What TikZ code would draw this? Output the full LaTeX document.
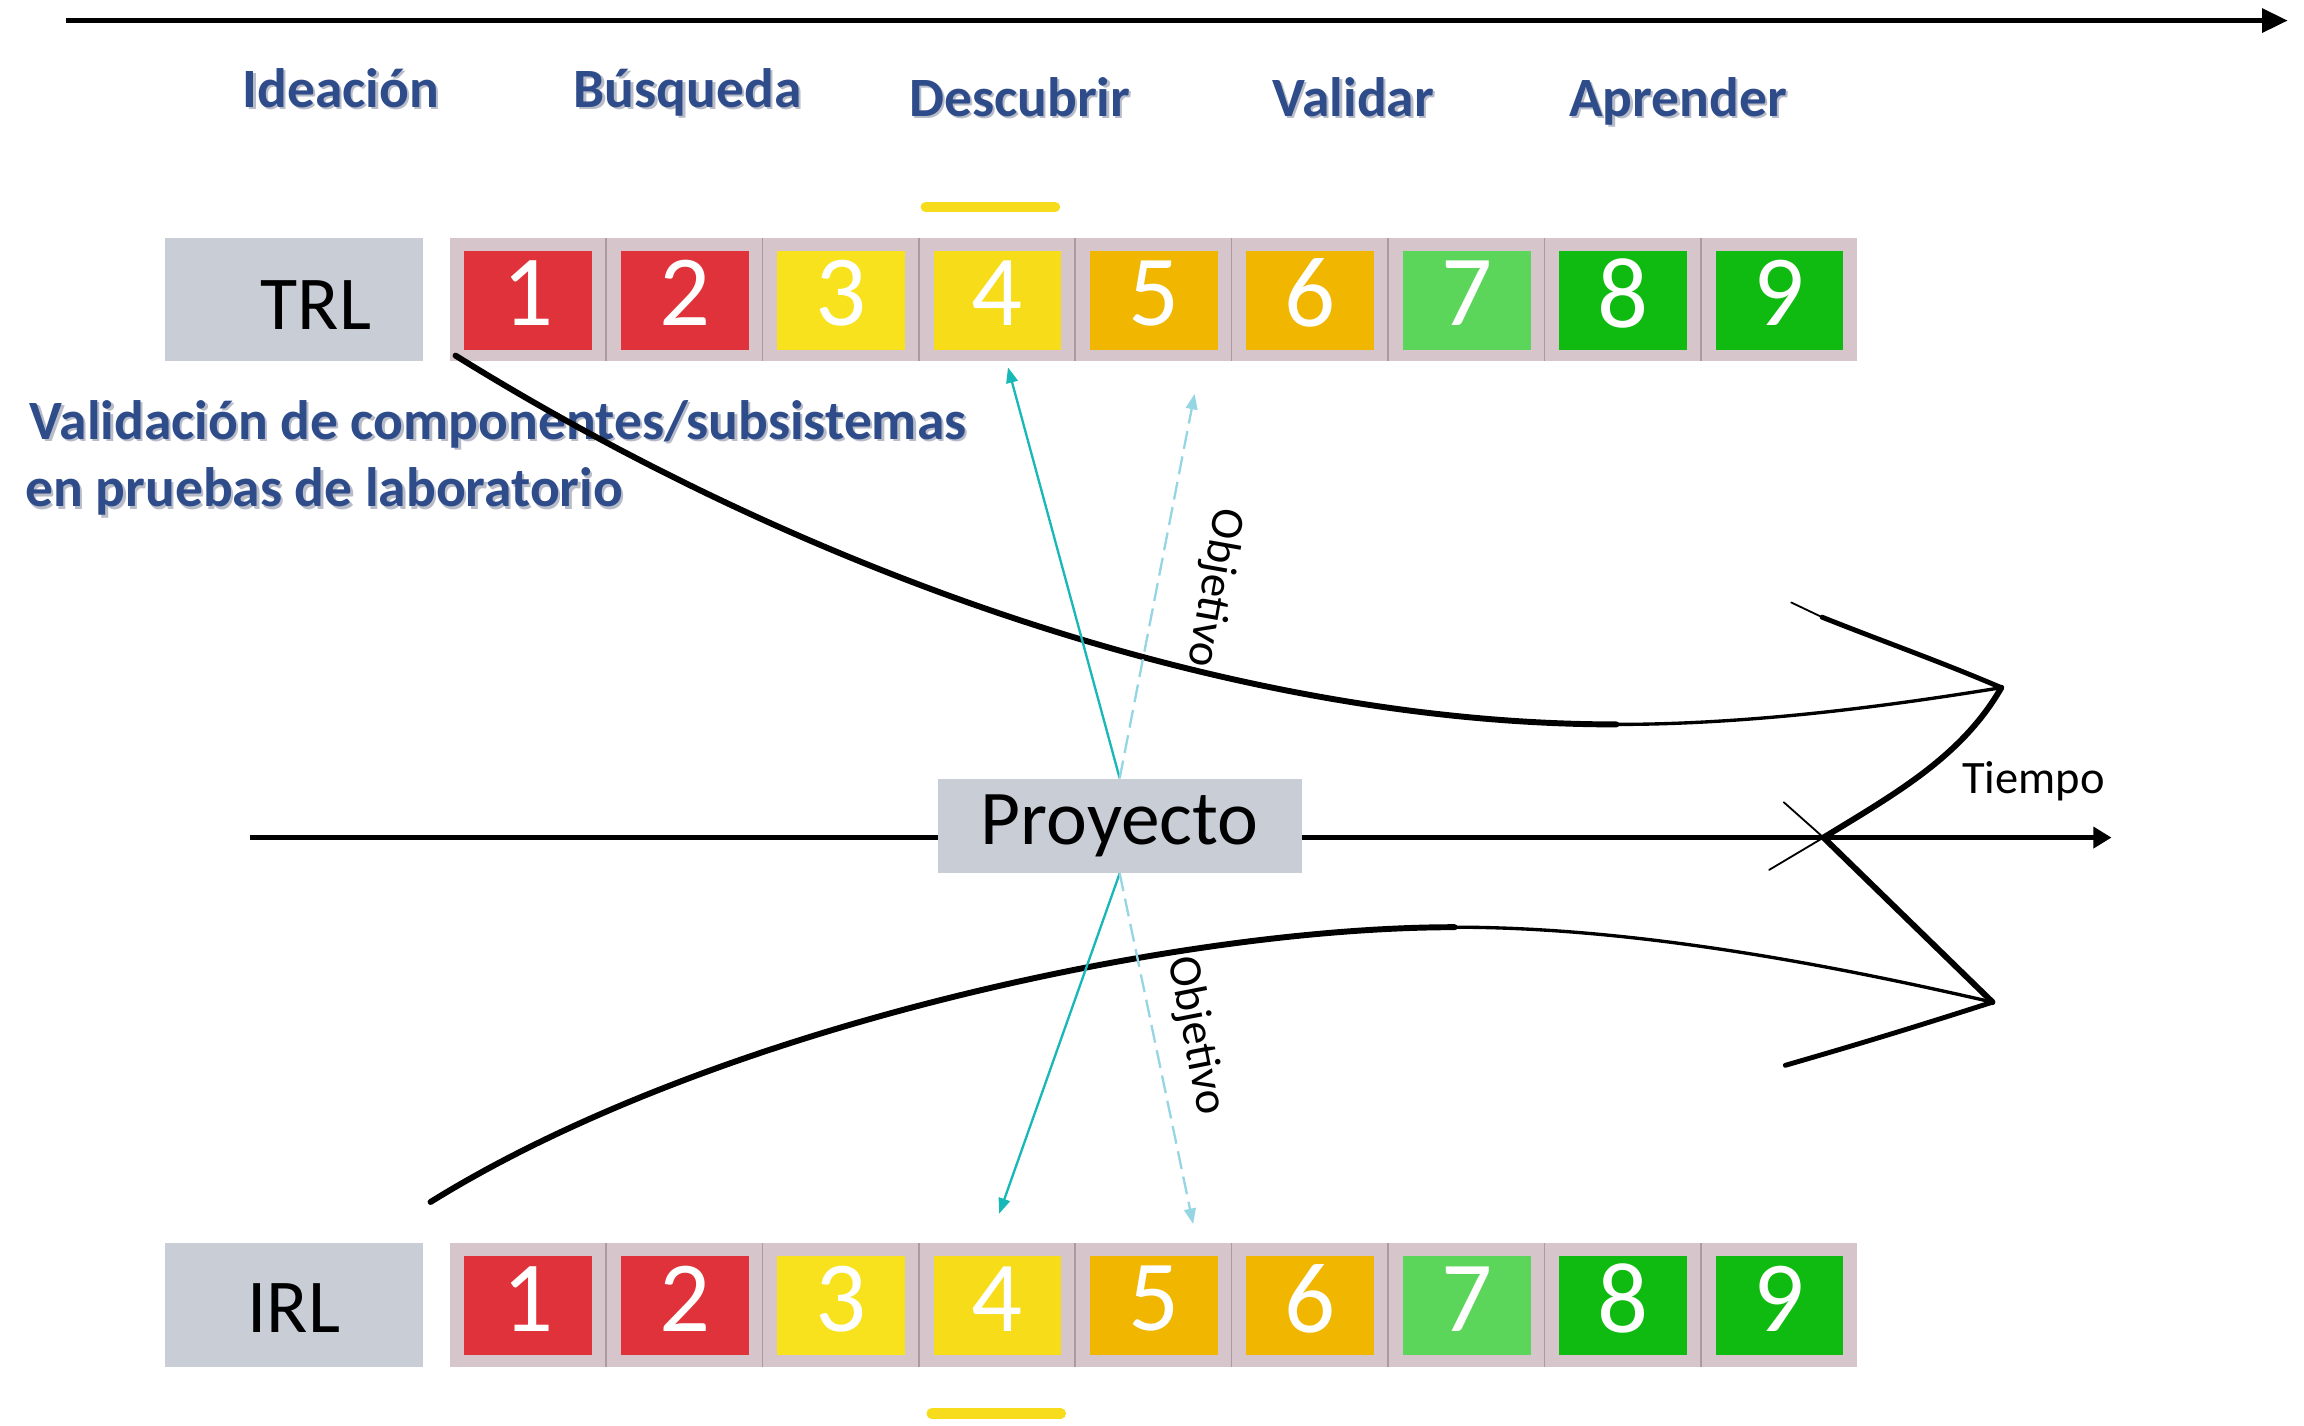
\documentclass[tikz,border=0pt]{standalone}
\usepackage{fontspec}
\setmainfont{Carlito}
\usetikzlibrary{arrows.meta}
\definecolor{boxgray}{HTML}{C8CDD6}
\definecolor{stripc}{HTML}{D6C5CA}
\definecolor{sepc}{HTML}{A99AA4}
\definecolor{cred}{HTML}{E0323A}
\definecolor{cyel}{HTML}{F8E21E}
\definecolor{cyeltwo}{HTML}{F7DC1A}
\definecolor{corange}{HTML}{F0B600}
\definecolor{clgreen}{HTML}{5CD65A}
\definecolor{cgreen}{HTML}{0FBB10}
\definecolor{phasec}{HTML}{2E4B8A}
\definecolor{shadowc}{HTML}{B8BCC8}
\definecolor{tealc}{HTML}{18B8B8}
\definecolor{lightc}{HTML}{96D6E4}
\definecolor{ybarc}{HTML}{F6DC1C}
\newcommand\shd[1]{\leavevmode\rlap{\kern0.9pt\raisebox{-0.9pt}{\color{shadowc}#1}}#1}
\begin{document}
\begin{tikzpicture}[x=0.02cm,y=-0.02cm,
  graybox/.style={fill=boxgray, inner sep=0},
  phase/.style={text=phasec, font=\fontsize{21.5}{24}\selectfont\bfseries, anchor=base, inner sep=0},
  note/.style={text=phasec, font=\fontsize{21.5}{24}\selectfont\bfseries, anchor=base west, inner sep=0},
  cellsq/.style={minimum width=1.74cm, minimum height=1.34cm, inner sep=0},
  digit/.style={text=white, font=\fontsize{39}{44}\selectfont, inner sep=0},
  axis/.style={line width=2.1pt, -{Triangle[length=10pt,width=9pt]}},
  midaxis/.style={line width=1.9pt, -{Triangle[length=7pt,width=8pt]}},
  brush/.style={line width=2.3pt, line cap=round},
  midbrush/.style={line width=1.3pt, line cap=round},
  thinbrush/.style={line width=0.7pt, line cap=round},
  solidarrow/.style={tealc, line width=0.9pt, -{Triangle[length=6pt,width=4.5pt]}},
  dasharrow/.style={lightc, line width=0.9pt, dash pattern=on 7pt off 3pt, -{Triangle[length=6pt,width=4.5pt]}},
  smalltxt/.style={font=\fontsize{18}{20}\selectfont, inner sep=0},
  ybar/.style={ybarc, line width=4pt, line cap=round},
]
\fill[white] (0,0) rectangle (1568,970);
\useasboundingbox (0,0) rectangle (1568,970);

% top time arrow
\coordinate (topL) at (45,14);
\coordinate (topR) at (1557,14);
\draw[axis] (topL) -- (topR);

% phase labels
\node[phase] (ph1) at (232,73) {\shd{Ideación}};
\node[phase] (ph2) at (468,73) {\shd{Búsqueda}};
\node[phase] (ph3) at (694,79) {\shd{Descubrir}};
\node[phase] (ph4) at (921,79) {\shd{Validar}};
\node[phase] (ph5) at (1142,79) {\shd{Aprender}};

% yellow markers
\draw[ybar] (630,141) -- (718,141);
\draw[ybar] (634,962) -- (722,962);

% TRL row
\node[graybox, minimum width=3.52cm, minimum height=1.68cm] (trlbox) at (200,204) {};
\node[inner sep=0, anchor=base, font=\fontsize{29.5}{32}\selectfont] (trltxt) at (215,224) {TRL};
\fill[stripc] (306,162) rectangle (1264,246);
% IRL row
\node[graybox, minimum width=3.52cm, minimum height=1.68cm] (irlbox) at (200,888) {};
\node[inner sep=0, anchor=base, font=\fontsize{29.5}{32}\selectfont] (irltxt) at (200,907) {IRL};
\fill[stripc] (306,846) rectangle (1264,930);
\foreach \k in {1,...,8}{
  \pgfmathsetmacro{\sx}{306+\k*106.44}
  \draw[sepc, line width=0.6pt] (\sx,162) -- (\sx,246);
  \draw[sepc, line width=0.6pt] (\sx,846) -- (\sx,930);
}
\foreach \i/\c in {1/cred,2/cred,3/cyel,4/cyeltwo,5/corange,6/corange,7/clgreen,8/cgreen,9/cgreen}{
  \pgfmathsetmacro{\cx}{306+(\i-1)*106.44+53.5}
  \node[cellsq, fill=\c] (t\i) at (\cx,204.5) {};
  \node[digit] (td\i) at (\cx,199.5) {\i};
  \node[cellsq, fill=\c] (r\i) at (\cx,888.5) {};
  \node[digit] (rd\i) at (\cx,884) {\i};
}

% note text
\node[note] (note1) at (20,299) {\shd{Validación de componentes/subsistemas}};
\node[note] (note2) at (17,345) {\shd{en pruebas de laboratorio}};

% middle time axis
\coordinate (midL) at (170,570);
\coordinate (midR) at (1437,570);
\draw[midaxis] (midL) -- (midR);
\node[smalltxt, anchor=base west] (tiempo) at (1335,540) {Tiempo};

% sketched arrows
\draw[brush] (310,242) .. controls (560,397) and (850,493) .. (1100,493);
\draw[midbrush] (1100,493) .. controls (1200,493) and (1300,478) .. (1362,468);
\draw[thinbrush] (1219,410) -- (1240,420);
\draw[brush, line width=1.9pt] (1240,420) .. controls (1280,436) and (1320,450) .. (1362,468);
\draw[brush] (1362,468) .. controls (1335,515) and (1290,540) .. (1241,570);
\draw[thinbrush] (1241,570) -- (1204,592);
\draw[thinbrush] (1214,546) -- (1241,570);
\draw[brush] (1241,570) -- (1356,682);
\draw[brush, line width=1.9pt] (1356,682) .. controls (1300,700) and (1260,712) .. (1215,725);
\draw[brush] (293,818) .. controls (483,700) and (800,631) .. (990,631);
\draw[midbrush] (990,631) .. controls (1120,631) and (1260,660) .. (1356,682);

% project node
\node[graybox, minimum width=4.96cm, minimum height=1.28cm, font=\fontsize{30}{34}\selectfont] (proy) at (762,562) {Proyecto};

% target arrows
\coordinate (trlA) at (686,250);
\coordinate (trlB) at (813,268);
\coordinate (irlA) at (680,826);
\coordinate (irlB) at (812,833);
\draw[solidarrow] (proy.north) -- (trlA);
\draw[dasharrow] (proy.north) -- (trlB);
\draw[solidarrow] (proy.south) -- (irlA);
\draw[dasharrow] (proy.south) -- (irlB);
\node[smalltxt, rotate=-100] (obj1) at (826,400) {Objetivo};
\node[smalltxt, rotate=-79] (obj2) at (814,705) {Objetivo};
\end{tikzpicture}
\end{document}
